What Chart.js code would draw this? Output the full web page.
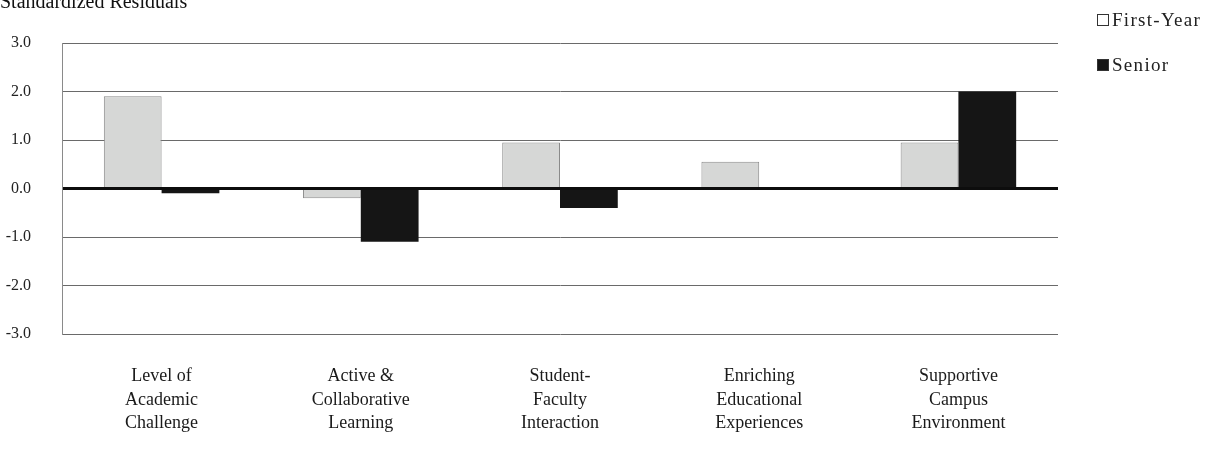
<!DOCTYPE html>
<html>
<head>
<meta charset="utf-8">
<script src="https://cdn.jsdelivr.net/npm/chart.js@4"></script>
<style>
  body { margin: 0; background: #fff; }
  #wrap { position: relative; width: 1212px; height: 456px; overflow: hidden; }
  #title { position: absolute; left: 0px; top: -10px; font: 20px "Liberation Serif", serif; color: #111; white-space: nowrap; }
  #legend { position: absolute; left: 1097px; top: 9px; font: 19px "Liberation Serif", serif; letter-spacing: 1.3px; color: #222; }
  #legend div { height: 45px; display: flex; align-items: flex-start; }
  #legend span.box { display: inline-block; width: 12px; height: 12px; margin: 5px 3px 0 0; box-sizing: border-box; }
</style>
</head>
<body>
<div id="wrap">
  <canvas id="mychart" width="1212" height="456"></canvas>
  <div id="title">Standardized Residuals</div>
  <div id="legend"></div>
</div>
<script>
var categories = [
  ["Level of", "Academic", "Challenge"],
  ["Active &", "Collaborative", "Learning"],
  ["Student-", "Faculty", "Interaction"],
  ["Enriching", "Educational", "Experiences"],
  ["Supportive", "Campus", "Environment"]
];
var firstYear = [1.9, -0.2, 0.95, 0.55, 0.95];
var senior = [-0.1, -1.1, -0.4, 0.0, 2.0];
var yTicks = [-3, -2, -1, 0, 1, 2, 3];

var serif = "'Liberation Serif', 'Times New Roman', serif";

var chart = new Chart(document.getElementById("mychart"), {
  type: 'bar',
  data: {
    labels: categories,
    datasets: [
      {
        label: 'First-Year',
        data: firstYear,
        backgroundColor: '#d6d7d6',
        borderColor: '#8a8a8a',
        borderWidth: 1,
        legendBox: '#ffffff'
      },
      {
        label: 'Senior',
        data: senior,
        backgroundColor: '#151515',
        borderColor: '#151515',
        borderWidth: 0,
        legendBox: '#151515'
      }
    ]
  },
  options: {
    responsive: false,
    animation: false,
    layout: { padding: { top: 43, right: 154, left: 0, bottom: 0 } },
    datasets: { bar: { categoryPercentage: 0.58, barPercentage: 1.0 } },
    plugins: {
      legend: { display: false },
      tooltip: { enabled: false },
      title: { display: false }
    },
    scales: {
      x: {
        grid: { display: false, drawTicks: false },
        border: { display: false },
        ticks: {
          color: '#1a1a1a',
          padding: 31,
          maxRotation: 0,
          autoSkip: false,
          font: { family: serif, size: 18, lineHeight: 1.3 }
        },
        afterFit: function (s) { s.height = 122; }
      },
      y: {
        min: -3,
        max: 3,
        afterBuildTicks: function (s) {
          s.ticks = yTicks.map(function (v) { return { value: v }; });
        },
        grid: {
          drawTicks: false,
          color: function (c) { return c.tick && c.tick.value === 0 ? '#0d0d0d' : '#6a6a6a'; },
          lineWidth: function (c) { return c.tick && c.tick.value === 0 ? 3 : 1; }
        },
        border: { display: true, color: '#8a8a8a', width: 1 },
        ticks: {
          color: '#222',
          padding: 31,
          font: { family: serif, size: 16 },
          callback: function (v) { return Number(v).toFixed(1); }
        },
        afterFit: function (s) { s.width = 62; }
      }
    }
  }
});

// legend built from the datasets
var lg = document.getElementById("legend");
chart.data.datasets.forEach(function (ds) {
  var row = document.createElement("div");
  var box = document.createElement("span");
  box.className = "box";
  box.style.background = ds.legendBox;
  box.style.border = "1px solid #333";
  row.appendChild(box);
  row.appendChild(document.createTextNode(ds.label));
  lg.appendChild(row);
});
</script>
</body>
</html>
